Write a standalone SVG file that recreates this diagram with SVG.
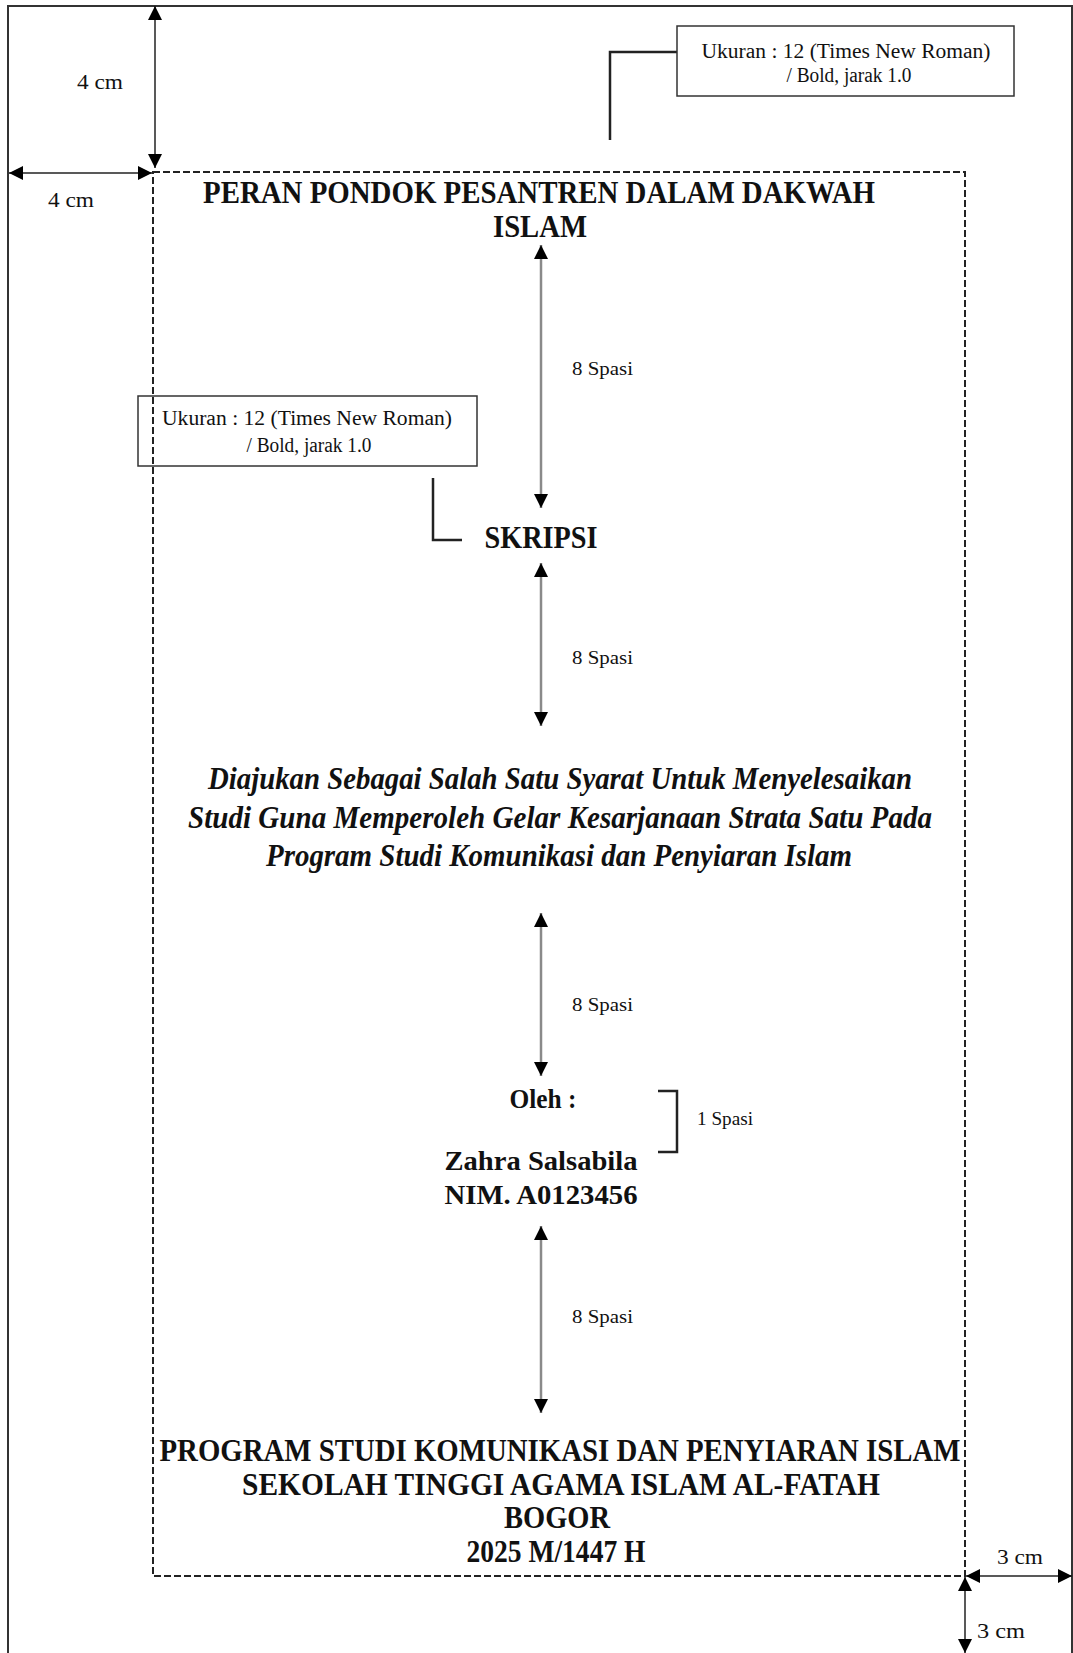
<svg xmlns="http://www.w3.org/2000/svg" width="1073" height="1653" viewBox="0 0 1073 1653">
<style>
  .serif{font-family:"Liberation Serif","Times New Roman",serif;fill:#111}
  .b{font-weight:bold}
  .bi{font-weight:bold;font-style:italic}
  .m{text-anchor:middle}
  .dim{stroke:#222;stroke-width:1.5;fill:none}
  .gap{stroke:#8a8a8a;stroke-width:2.5;fill:none}
  .lead{stroke:#222;stroke-width:2.5;fill:none}
  .box{fill:#fff;stroke:#333;stroke-width:1.5}
</style>
<defs>
  <marker id="ah" viewBox="0 0 14 14" refX="14" refY="7" markerWidth="14" markerHeight="14" markerUnits="userSpaceOnUse" orient="auto-start-reverse">
    <path d="M0,0 L14,7 L0,14 z" fill="#000"/>
  </marker>
</defs>
<rect width="1073" height="1653" fill="#fff"/>
<g id="page-border">
  <path d="M8,1653 V6 H1072 V1653" fill="none" stroke="#333" stroke-width="2"/>
</g>
<g id="text-area">
  <rect x="153" y="172" width="812" height="1404" fill="none" stroke="#222" stroke-width="2" stroke-dasharray="7 3"/>
</g>
<g id="connectors">
  <line class="dim" x1="155" y1="6" x2="155" y2="168" marker-start="url(#ah)" marker-end="url(#ah)"/>
  <line class="dim" x1="9" y1="173" x2="152" y2="173" marker-start="url(#ah)" marker-end="url(#ah)"/>
  <line class="dim" x1="966" y1="1576" x2="1072" y2="1576" marker-start="url(#ah)" marker-end="url(#ah)"/>
  <line class="dim" x1="965" y1="1577" x2="965" y2="1653" marker-start="url(#ah)" marker-end="url(#ah)"/>
  <line class="gap" x1="541" y1="245" x2="541" y2="508" marker-start="url(#ah)" marker-end="url(#ah)"/>
  <line class="gap" x1="541" y1="563" x2="541" y2="726" marker-start="url(#ah)" marker-end="url(#ah)"/>
  <line class="gap" x1="541" y1="913" x2="541" y2="1076" marker-start="url(#ah)" marker-end="url(#ah)"/>
  <line class="gap" x1="541" y1="1226" x2="541" y2="1413" marker-start="url(#ah)" marker-end="url(#ah)"/>
  <path class="lead" d="M677,52 H610 V140"/>
  <path class="lead" d="M433,478 V540 H462"/>
  <path class="lead" d="M658,1091 H677 V1152 H658"/>
</g>
<g id="dim-labels">
  <text class="serif" x="77" y="89" font-size="21" textLength="46" lengthAdjust="spacingAndGlyphs">4 cm</text>
  <text class="serif" x="48" y="207" font-size="21" textLength="46" lengthAdjust="spacingAndGlyphs">4 cm</text>
  <text class="serif" x="997" y="1564" font-size="21" textLength="46" lengthAdjust="spacingAndGlyphs">3 cm</text>
  <text class="serif" x="977" y="1638" font-size="21" textLength="48" lengthAdjust="spacingAndGlyphs">3 cm</text>
</g>
<g id="note-top">
  <rect class="box" x="677" y="26" width="337" height="70"/>
  <text class="serif m" x="846" y="58" font-size="20" textLength="289" lengthAdjust="spacingAndGlyphs">Ukuran : 12 (Times New Roman)</text>
  <text class="serif m" x="849" y="82" font-size="20" textLength="125" lengthAdjust="spacingAndGlyphs">/ Bold, jarak 1.0</text>
</g>
<g id="note-left">
  <rect class="box" x="138" y="396" width="339" height="70" fill-opacity="0"/>
  <text class="serif m" x="307" y="425" font-size="20" textLength="290" lengthAdjust="spacingAndGlyphs">Ukuran : 12 (Times New Roman)</text>
  <text class="serif m" x="309" y="452" font-size="20" textLength="125" lengthAdjust="spacingAndGlyphs">/ Bold, jarak 1.0</text>
</g>
<g id="title">
  <text class="serif b m" x="539" y="203" font-size="31" textLength="672" lengthAdjust="spacingAndGlyphs">PERAN PONDOK PESANTREN DALAM DAKWAH</text>
  <text class="serif b m" x="540" y="237" font-size="31" textLength="94" lengthAdjust="spacingAndGlyphs">ISLAM</text>
</g>
<g id="skripsi">
  <text class="serif b m" x="541" y="548" font-size="31" textLength="113" lengthAdjust="spacingAndGlyphs">SKRIPSI</text>
</g>
<g id="purpose">
  <text class="serif bi m" x="560" y="789" font-size="31" textLength="704" lengthAdjust="spacingAndGlyphs">Diajukan Sebagai Salah Satu Syarat Untuk Menyelesaikan</text>
  <text class="serif bi m" x="560" y="828" font-size="31" textLength="744" lengthAdjust="spacingAndGlyphs">Studi Guna Memperoleh Gelar Kesarjanaan Strata Satu Pada</text>
  <text class="serif bi m" x="559" y="866" font-size="31" textLength="586" lengthAdjust="spacingAndGlyphs">Program Studi Komunikasi dan Penyiaran Islam</text>
</g>
<g id="author">
  <text class="serif b m" x="543" y="1108" font-size="27" textLength="67" lengthAdjust="spacingAndGlyphs">Oleh :</text>
  <text class="serif b m" x="541" y="1170" font-size="28" textLength="193" lengthAdjust="spacingAndGlyphs">Zahra Salsabila</text>
  <text class="serif b m" x="541" y="1204" font-size="28" textLength="193" lengthAdjust="spacingAndGlyphs">NIM. A0123456</text>
</g>
<g id="spacing-labels">
  <text class="serif" x="572" y="375" font-size="18" textLength="61" lengthAdjust="spacingAndGlyphs">8 Spasi</text>
  <text class="serif" x="572" y="664" font-size="18" textLength="61" lengthAdjust="spacingAndGlyphs">8 Spasi</text>
  <text class="serif" x="572" y="1011" font-size="18" textLength="61" lengthAdjust="spacingAndGlyphs">8 Spasi</text>
  <text class="serif" x="572" y="1323" font-size="18" textLength="61" lengthAdjust="spacingAndGlyphs">8 Spasi</text>
  <text class="serif" x="697" y="1125" font-size="18" textLength="56" lengthAdjust="spacingAndGlyphs">1 Spasi</text>
</g>
<g id="institution">
  <text class="serif b m" x="560" y="1461" font-size="31" textLength="801" lengthAdjust="spacingAndGlyphs">PROGRAM STUDI KOMUNIKASI DAN PENYIARAN ISLAM</text>
  <text class="serif b m" x="561" y="1495" font-size="31" textLength="638" lengthAdjust="spacingAndGlyphs">SEKOLAH TINGGI AGAMA ISLAM AL-FATAH</text>
  <text class="serif b m" x="557" y="1528" font-size="31" textLength="106" lengthAdjust="spacingAndGlyphs">BOGOR</text>
  <text class="serif b m" x="556" y="1562" font-size="31" textLength="179" lengthAdjust="spacingAndGlyphs">2025 M/1447 H</text>
</g>
</svg>
